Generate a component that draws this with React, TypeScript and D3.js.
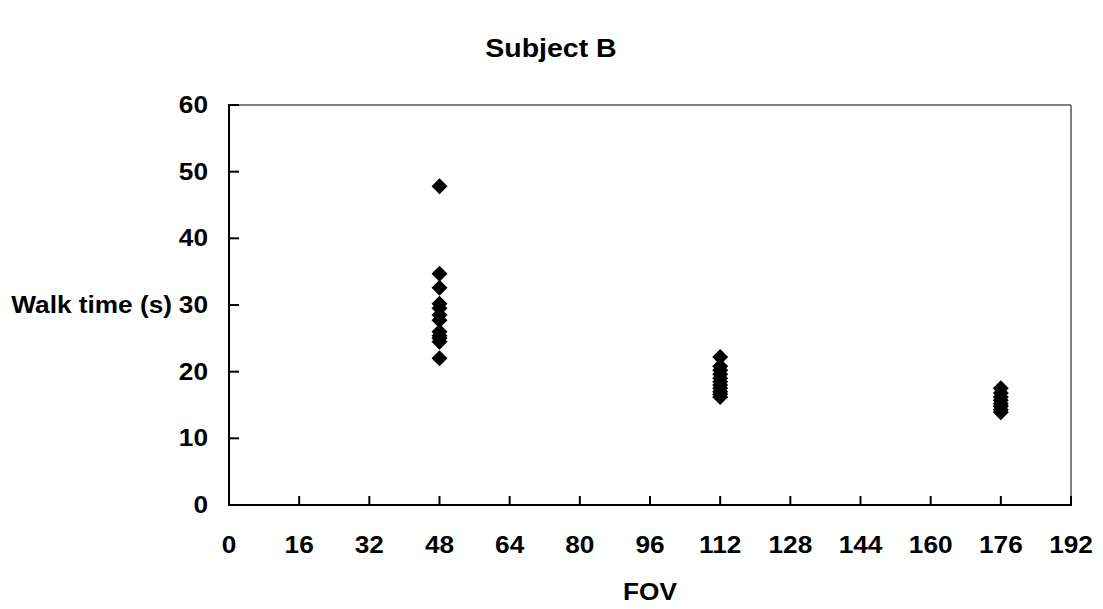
import React from "react";
import * as d3 from "d3";

const title = "Subject B";
const xLabel = "FOV";
const yLabel = "Walk time (s)";
const xTicks = [0, 16, 32, 48, 64, 80, 96, 112, 128, 144, 160, 176, 192];
const yTicks = [0, 10, 20, 30, 40, 50, 60];
const fovLevels = [48, 112, 176];
const times48 = [47.8, 34.7, 32.6, 30.2, 29.5, 28.5, 27.7, 26.0, 25.4, 25.0, 24.5, 22.0];
const times112 = [22.2, 20.8, 20.2, 19.6, 19.0, 18.5, 18.0, 17.5, 17.0, 16.6, 16.2];
const times176 = [17.5, 16.8, 16.2, 15.7, 15.2, 14.8, 14.3, 13.9];

const W = 1103;
const H = 609;
const left = 229, right = 1071, top = 105, bottom = 505;
const FONT = "'Liberation Sans', Arial, sans-serif";
const SX = 1.14;
const R = 8;

export default function App() {
  const x = d3.scaleLinear().domain([0, 192]).range([left, right]);
  const y = d3.scaleLinear().domain([0, 60]).range([bottom, top]);
  const groups = [times48, times112, times176];
  const points = fovLevels.flatMap((f, i) => groups[i].map((t) => ({ f, t })));
  const diamond = `M0,${-R}L${R},0L0,${R}L${-R},0Z`;

  const txt = (s: string, px: number, py: number, anchor: string, size = 23) => (
    <text
      transform={`translate(${px},${py}) scale(${SX},1)`}
      textAnchor={anchor}
      fontFamily={FONT}
      fontWeight="bold"
      fontSize={size}
      fill="#000"
    >
      {s}
    </text>
  );

  return (
    <svg
      width={W}
      height={H}
      style={{ position: "absolute", left: 0, top: 0, background: "#fff" }}
    >
      <rect x={0} y={0} width={W} height={H} fill="#fff" />
      <line x1={left} x2={right} y1={top} y2={top} stroke="#808080" strokeWidth={2} />
      <line x1={right} x2={right} y1={top} y2={bottom} stroke="#808080" strokeWidth={2} />
      <line x1={left} x2={left} y1={top - 1} y2={bottom + 1} stroke="#000" strokeWidth={2} />
      <line x1={left - 1} x2={right + 1} y1={bottom} y2={bottom} stroke="#000" strokeWidth={2} />
      {yTicks.map((v) => (
        <g key={"y" + v}>
          <line x1={left} x2={left + 10} y1={y(v)} y2={y(v)} stroke="#000" strokeWidth={2} />
          {txt(String(v), 208, y(v) + 8, "end")}
        </g>
      ))}
      {xTicks.map((v) => (
        <g key={"x" + v}>
          <line x1={x(v)} x2={x(v)} y1={bottom} y2={bottom - 9} stroke="#000" strokeWidth={2} />
          {txt(String(v), x(v), 553, "middle")}
        </g>
      ))}
      {points.map((p, i) => (
        <path key={i} d={diamond} transform={`translate(${x(p.f)},${y(p.t)})`} fill="#000" />
      ))}
      {txt(title, 551, 57, "middle", 25)}
      {txt(yLabel, 172, y(30) + 8, "end")}
      {txt(xLabel, x(96), 600, "middle")}
    </svg>
  );
}
